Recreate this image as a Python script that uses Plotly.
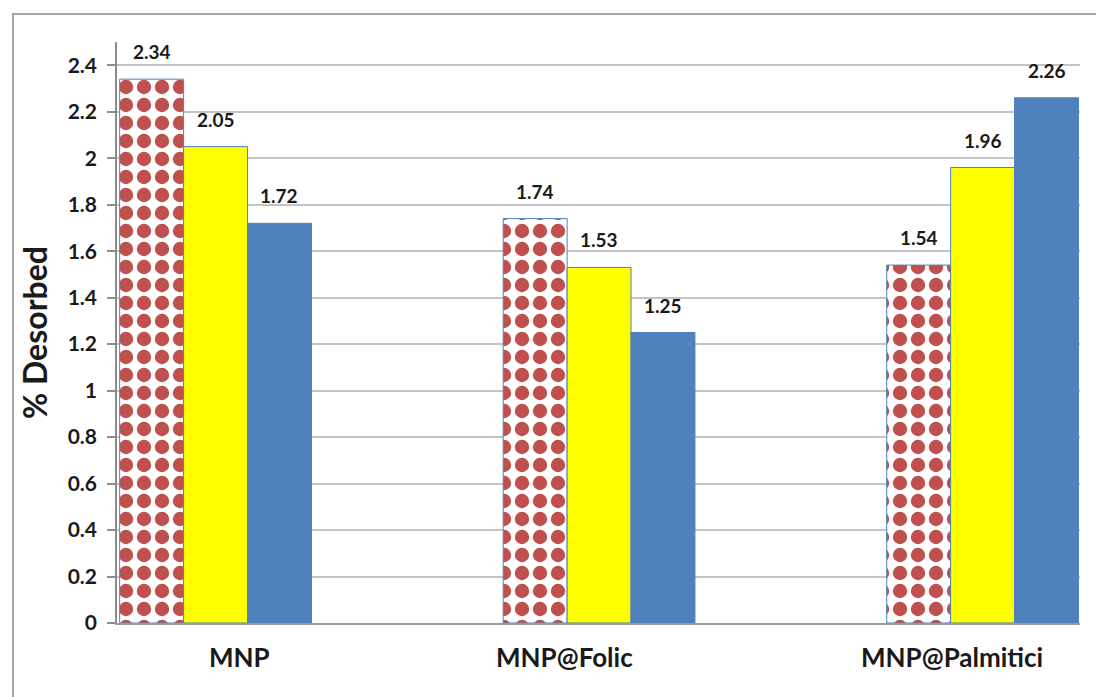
import plotly.graph_objects as go

# Sample groups and the three desorption series per group
categories = ["MNP", "MNP@Folic", "MNP@Palmitici"]
series_names = ["Series 1", "Series 2", "Series 3"]
series_values = [
    [2.34, 1.74, 1.54],
    [2.05, 1.53, 1.96],
    [1.72, 1.25, 2.26],
]
y_ticks = [0, 0.2, 0.4, 0.6, 0.8, 1, 1.2, 1.4, 1.6, 1.8, 2, 2.2, 2.4]

W, H = 1096, 697
M_L, M_R, M_T, M_B = 117, 16, 42, 74
X_RANGE = [-0.257, 2.254]
BARGAP = 0.5
# horizontal nudge (px) of each category caption under its group
CAPTION_SHIFT = [24, -35, -31]

BORDER = "#4F81BD"
FONT = "Lato"
TEXT = "#1a1a1a"

fig = go.Figure()

# Red diamond-checker series
fig.add_trace(go.Bar(
    x=categories, y=series_values[0], name=series_names[0],
    marker=dict(
        color="white",
        line=dict(color=BORDER, width=1),
        pattern=dict(shape=".", fgcolor="#C0504D", bgcolor="white",
                     size=18, solidity=0.5, fillmode="replace"),
    ),
))
# Yellow series
fig.add_trace(go.Bar(
    x=categories, y=series_values[1], name=series_names[1],
    marker=dict(color="#FFFF00", line=dict(color=BORDER, width=1)),
))
# Blue series
fig.add_trace(go.Bar(
    x=categories, y=series_values[2], name=series_names[2],
    marker=dict(color="#4F81BD", line=dict(color=BORDER, width=1)),
))

# Value labels above each bar, offset to the bar's slot within its group
plot_w = W - M_L - M_R
cat_px = plot_w / (X_RANGE[1] - X_RANGE[0])
bar_px = cat_px * (1 - BARGAP) / len(series_values)
for i, vals in enumerate(series_values):
    shift = (i - (len(series_values) - 1) / 2) * bar_px
    for cat, v in zip(categories, vals):
        fig.add_annotation(
            x=cat, y=v, text=f"{v:.2f}", showarrow=False,
            xshift=shift, yshift=14, yanchor="bottom",
            font=dict(family=FONT, size=19, color=TEXT, weight="bold"),
        )

# Category captions below the axis
for cat, dx in zip(categories, CAPTION_SHIFT):
    fig.add_annotation(
        x=cat, y=0, yref="paper", text=cat, showarrow=False,
        xshift=dx, yshift=-16, yanchor="top",
        font=dict(family=FONT, size=26, color=TEXT, weight="bold"),
    )

# Chart frame
fig.add_shape(
    type="rect", xref="paper", yref="paper",
    x0=(13 - M_L) / plot_w, x1=1.2,
    y0=-0.3, y1=(H - M_B - 14) / (H - M_T - M_B),
    line=dict(color="#A6A6A6", width=2), layer="below",
)

fig.update_layout(
    width=W, height=H,
    margin=dict(l=M_L, r=M_R, t=M_T, b=M_B, pad=0),
    paper_bgcolor="white", plot_bgcolor="white",
    barmode="group", bargap=BARGAP, bargroupgap=0,
    showlegend=False,
    font=dict(family=FONT, color=TEXT),
    xaxis=dict(
        range=X_RANGE, showgrid=False, zeroline=False,
        showline=True, linecolor="#9a9a9a", linewidth=1.5,
        ticks="", showticklabels=False,
    ),
    yaxis=dict(
        range=[0, 2.5], tickvals=y_ticks, showgrid=True,
        gridcolor="#C4C4C4", gridwidth=1.5, zeroline=False,
        showline=True, linecolor="#8c8c8c", linewidth=1.5,
        ticks="outside", ticklen=8, tickcolor="#8c8c8c", tickwidth=1.5,
        ticklabelstandoff=6,
        tickfont=dict(family=FONT, size=21, weight="bold", color=TEXT),
        title=dict(text="% Desorbed", standoff=10,
                   font=dict(family=FONT, size=32, weight="bold", color=TEXT)),
    ),
)

fig.write_html("out.html")
